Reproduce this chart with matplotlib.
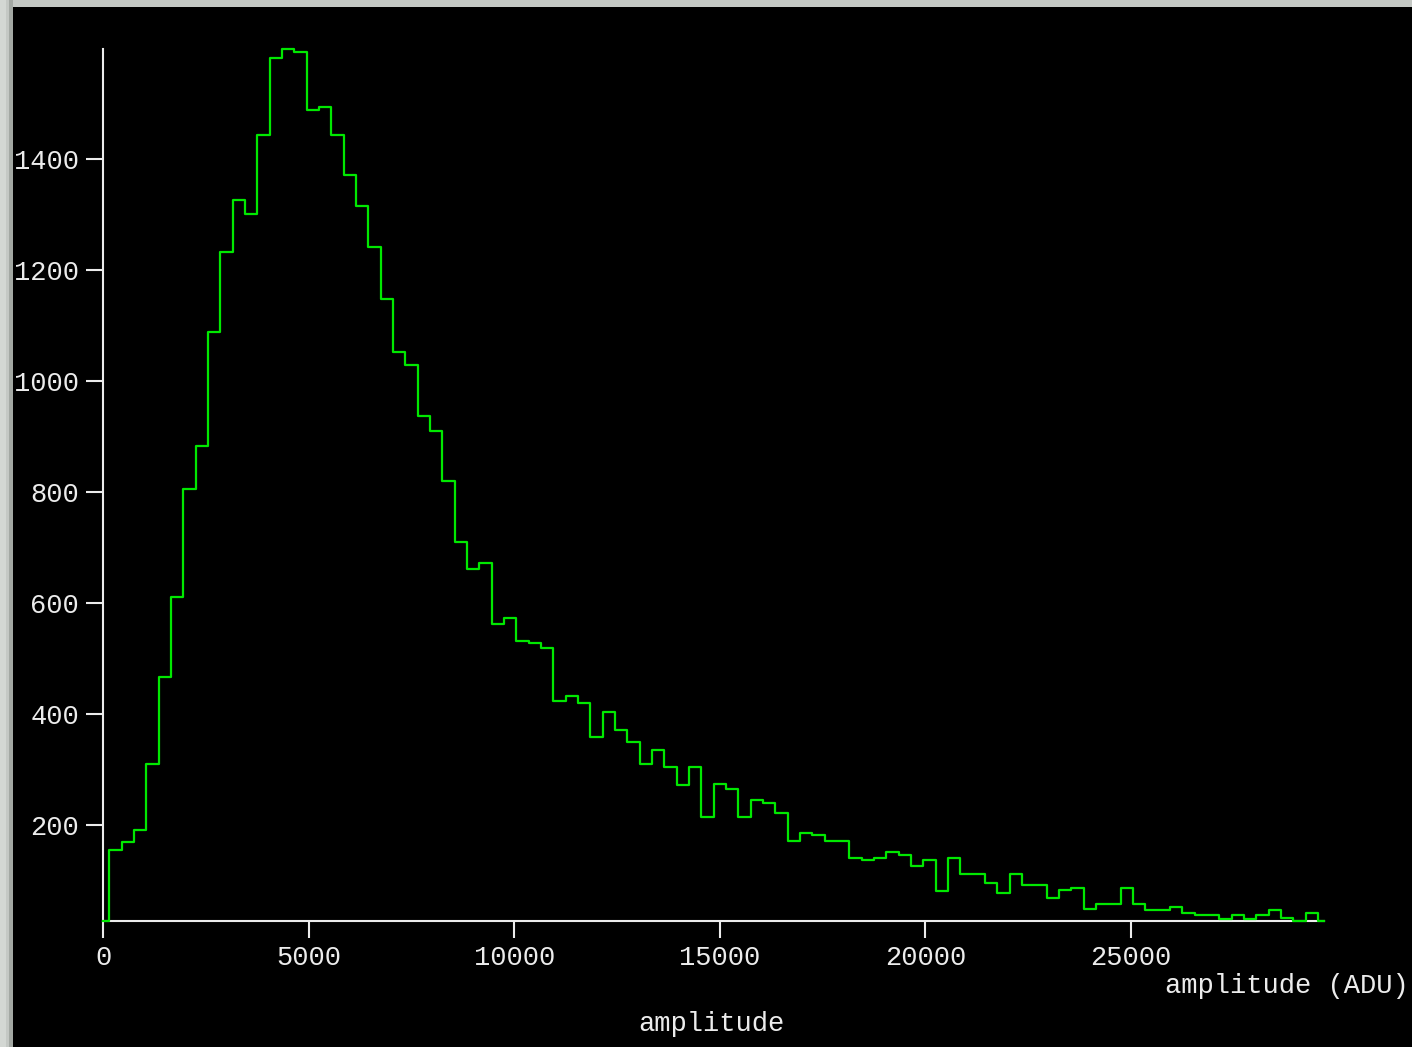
import numpy as np
import matplotlib
matplotlib.use("Agg")
import matplotlib.pyplot as plt
from matplotlib.patches import Rectangle

# Histogram of pulse amplitudes: bin centres (ADU) every 300 ADU and counts per bin
bin_width = 300
bin_centers = np.arange(100) * bin_width
counts = [
    28, 156, 171, 192, 311, 468, 612, 805, 884, 1088,
    1232, 1326, 1301, 1444, 1582, 1598, 1593, 1489, 1493, 1444,
    1371, 1316, 1242, 1148, 1053, 1029, 938, 910, 821, 711,
    662, 673, 563, 574, 533, 529, 520, 425, 434, 420,
    360, 405, 371, 350, 311, 335, 305, 272, 306, 216,
    275, 266, 216, 246, 241, 222, 172, 187, 182, 172,
    172, 141, 137, 141, 153, 147, 127, 138, 82, 142,
    113, 113, 97, 78, 113, 92, 92, 69, 84, 88,
    49, 59, 59, 87, 58, 48, 48, 54, 43, 38,
    38, 32, 38, 32, 39, 48, 33, 28, 43, 28,
]
x_ticks = [0, 5000, 10000, 15000, 20000, 25000]
y_ticks = [200, 400, 600, 800, 1000, 1200, 1400]

W, H = 1412, 1047
FONT = "Liberation Mono"
FS = 19.5
FG = "#ececec"
GREEN = "#00e800"

fig = plt.figure(figsize=(W / 100, H / 100), dpi=100)
fig.patch.set_facecolor("#c4c8c4")

# window frame and black drawing area
fig.patches.append(Rectangle((0, 0), 6 / W, 1, transform=fig.transFigure,
                             facecolor="#d3d7d3", edgecolor="none", zorder=-3))
fig.patches.append(Rectangle((9 / W, 0), 4 / W, 1, transform=fig.transFigure,
                             facecolor="#a3a8a3", edgecolor="none", zorder=-3))
fig.patches.append(Rectangle((13 / W, 0), 1 - 13 / W, 1 - 7 / H,
                             transform=fig.transFigure,
                             facecolor="black", edgecolor="none", zorder=-2))

left_px, right_px = 103.3, 1324.0
top_px, bottom_px = 49.0, 921.0
ax = fig.add_axes([left_px / W, 1 - bottom_px / H,
                   (right_px - left_px) / W, (bottom_px - top_px) / H])
ax.set_facecolor("none")

ax.step(bin_centers, counts, where="mid", color=GREEN, linewidth=1.6,
        zorder=5, clip_on=False)

ax.set_xlim(bin_centers[0], bin_centers[-1])
ax.set_ylim(min(counts), max(counts))

for side in ("top", "right"):
    ax.spines[side].set_visible(False)
for side in ("left", "bottom"):
    ax.spines[side].set_color(FG)
    ax.spines[side].set_linewidth(1.5)

ax.set_xticks(x_ticks)
ax.set_yticks(y_ticks)
ax.set_xticklabels([str(v) for v in x_ticks])
ax.set_yticklabels([str(v) for v in y_ticks])
ax.tick_params(axis="both", direction="out", length=12, width=1.5,
               color=FG, labelcolor=FG, labelsize=FS)
ax.tick_params(axis="x", pad=5.5)
ax.tick_params(axis="y", pad=5.5)
for lab in ax.get_xticklabels() + ax.get_yticklabels():
    lab.set_fontfamily(FONT)

fig.text(1409 / W, 1 - 986 / H, "amplitude (ADU)", ha="right", va="center",
         color=FG, fontsize=FS, family=FONT)
fig.text(711.5 / W, 1 - 1024 / H, "amplitude", ha="center", va="center",
         color=FG, fontsize=FS, family=FONT)

fig.savefig("out.png", dpi=100, facecolor=fig.get_facecolor())
